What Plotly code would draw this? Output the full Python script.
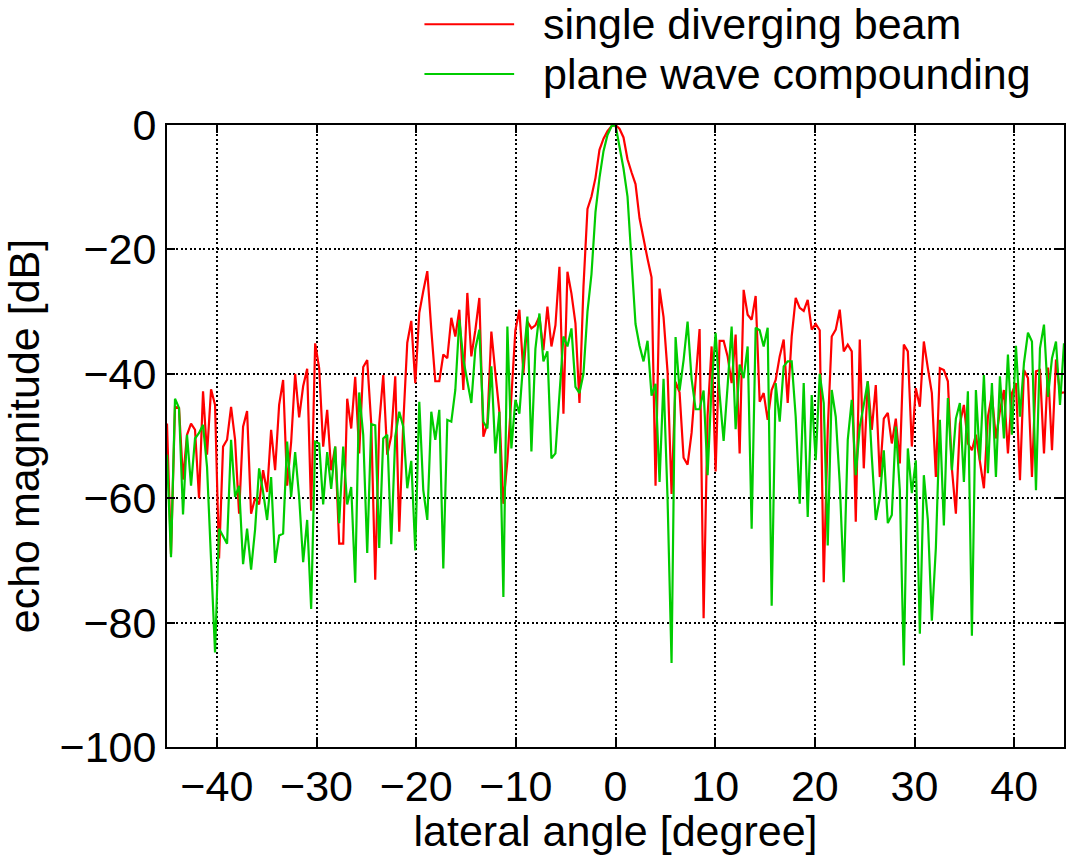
import numpy as np
import plotly.graph_objects as go

# Lateral beam profiles (dB), sampled uniformly from -45 to +45 degrees
single_diverging_db = [
    -48, -69, -45.3, -45.5, -57, -49.8, -48, -49, -60, -42.8,
    -53, -42.5, -45, -69.7, -51.7, -50.6, -45.3, -50.6, -62.5, -48.5,
    -46, -62.5, -60, -61, -55.5, -59, -49, -55.5, -45, -41,
    -58, -51, -40, -47, -42, -39.2, -62, -35.1, -39.1, -51.7,
    -45.8, -55.5, -51.7, -67.3, -67.3, -44, -48.8, -40.5, -52.8, -38.9,
    -37.8, -48, -73.1, -48, -40.2, -53, -50, -40.4, -65.4, -48,
    -35, -31.5, -41.5, -30.2, -26.7, -23.5, -32.9, -41.2, -41.2, -36.9,
    -37.5, -31, -34, -29.7, -42.6, -27, -37.2, -33, -27.8, -50.1,
    -48, -33.2, -39.9, -46.1, -60.9, -54, -43.7, -33, -29.7, -39.9,
    -31.6, -32.7, -32.2, -30.8, -36.2, -29.2, -35.6, -32.2, -22.8, -46.4,
    -23.6, -27.1, -31.9, -44.7, -26, -13.5, -11.5, -8.5, -4, -2.2,
    -1, -0.2, 0, -0.6, -2, -5.5, -7.6, -9.5, -15, -18.5,
    -21.5, -24.5, -58, -26.3, -30.9, -39.7, -59.3, -41.3, -43, -53.5,
    -54.6, -49.5, -40.8, -32.8, -79.3, -46.7, -35.6, -55.7, -34.7, -34.7,
    -37.2, -41.5, -33.7, -52.8, -26.5, -30.5, -31.3, -27.5, -44.5, -43.1,
    -47.4, -42.6, -41, -37.2, -34.5, -44.7, -34, -27.8, -29.4, -29.9,
    -28.1, -32.9, -32, -33, -73.5, -49, -34, -32.9, -29.7, -36.4,
    -35.3, -36.4, -63.8, -34.5, -55.2, -41.2, -49, -41.8, -56.6, -47.2,
    -46.3, -51.2, -47.2, -54.4, -35.3, -36.4, -51.7, -42.3, -45.3, -34.8,
    -39.1, -43.1, -56.6, -39.1, -39.4, -41.2, -55.2, -62.5, -48, -45,
    -51.2, -52.3, -49.8, -53.9, -58.4, -46.9, -43.4, -50.4, -46, -42.6,
    -52.8, -43.1, -41.5, -57.1, -39.4, -40.7, -56.6, -39.6, -39.4, -52.8,
    -39, -52.3, -37.7, -43.1, -43,
]

plane_wave_db = [
    -53, -69.5, -44, -45.5, -62.6, -49.8, -58, -50.4, -49.5, -48.2,
    -55, -70, -84.8, -64.9, -66, -67.3, -50.6, -59.8, -58, -70.6,
    -64.9, -71.5, -65, -55.2, -59, -63.5, -56.6, -70.4, -66, -65.7,
    -50.9, -59.8, -52.6, -59.8, -70.3, -63.5, -77.8, -50.9, -51.2, -61,
    -52.6, -58.5, -51.7, -64, -51.7, -61, -58.2, -73.6, -43, -49.8,
    -68.8, -48.1, -48.3, -68, -50.4, -49.8, -67.4, -50.1, -46.1, -48.5,
    -58.4, -54, -68.4, -44.5, -58.7, -63.5, -46.1, -50.6, -45.8, -71.3,
    -47.4, -47.7, -42.6, -31.3, -37.7, -41, -44.7, -36, -32.9, -47.7,
    -48.8, -38.8, -52.8, -46.1, -75.9, -32.4, -52, -44.2, -46.4, -37.8,
    -30.8, -52.5, -36, -30.3, -38, -36.4, -53.6, -52.8, -43.1, -34,
    -35.6, -32.7, -42.1, -43.1, -40, -30, -24, -14, -8.5, -4.2,
    -1.6, -0.2, 0, -3.5, -7, -11.5, -21.5, -32, -35.5, -38,
    -34.7, -43.5, -41.6, -57.4, -40.8, -60.1, -86.5, -34.1, -42.7, -37.8,
    -31.6, -40.8, -45.7, -45.7, -42.7, -56.3, -41.9, -33.4, -43.3, -50.8,
    -41.9, -32.4, -48.9, -38.5, -40.7, -35.6, -64.9, -32.6, -33, -35.6,
    -32.6, -77.3, -41.5, -47.7, -38.8, -38, -38, -46.9, -60.9, -41.5,
    -63, -43.4, -53.9, -40, -44.7, -67.6, -42.6, -46.9, -57.6, -73.5,
    -50.6, -44.2, -56.3, -48.5, -45, -41.2, -53.3, -63.5, -60, -52.3,
    -64, -62.7, -48.5, -58.7, -86.9, -52, -59.2, -53.9, -81.8, -56.3,
    -63.5, -79.7, -68, -47.4, -64.4, -43.9, -55.5, -47.2, -44.7, -57.4,
    -42.8, -82.1, -42.6, -53.9, -40.2, -56, -41.5, -56.6, -40.4, -50.4,
    -36.9, -49.8, -35.5, -46.9, -38.3, -33.4, -34.8, -58.7, -35.9, -32.1,
    -43.7, -37.5, -34.8, -45, -35.1,
]

angle_deg = np.linspace(-45, 45, len(single_diverging_db))

series_names = ["single diverging beam", "plane wave compounding"]
series_colors = ["#ff0000", "#00cc00"]

x_ticks = [-40, -30, -20, -10, 0, 10, 20, 30, 40]
y_ticks = [-100, -80, -60, -40, -20, 0]

FONT = "Liberation Sans, Arial, Helvetica, sans-serif"
FS = 43

fig = go.Figure()
for name, color, values in zip(series_names, series_colors,
                               [single_diverging_db, plane_wave_db]):
    fig.add_trace(go.Scatter(
        x=angle_deg, y=values, mode="lines", name=name,
        line=dict(color=color, width=2.2), showlegend=False,
    ))

# Key placed above the frame, top right: short line sample + label per series
key_rows_y = [1.162, 1.082]
for name, color, ky in zip(series_names, series_colors, key_rows_y):
    fig.add_shape(type="line", xref="paper", yref="paper",
                  x0=0.287, x1=0.387, y0=ky, y1=ky,
                  line=dict(color=color, width=2.2))
    fig.add_annotation(xref="paper", yref="paper", x=0.4175, y=ky,
                       xanchor="left", yanchor="middle", showarrow=False,
                       text=name, font=dict(family=FONT, size=FS, color="black"))

axis_common = dict(
    showline=True, linecolor="black", linewidth=2, mirror="ticks",
    ticks="inside", ticklen=8, tickwidth=2, tickcolor="black",
    showgrid=True, gridcolor="black", gridwidth=2, griddash="2px,2.5px",
    zeroline=False,
    tickfont=dict(family=FONT, size=FS, color="black"),
)

fig.update_layout(
    width=1070, height=855,
    margin=dict(l=167, r=4, t=125, b=108),
    paper_bgcolor="white", plot_bgcolor="white",
    font=dict(family=FONT, size=FS, color="black"),
    showlegend=False,
    xaxis=dict(
        range=[-45, 45], tickvals=x_ticks,
        title=dict(text="lateral angle [degree]", standoff=2,
                   font=dict(family=FONT, size=FS)),
        **axis_common,
    ),
    yaxis=dict(
        range=[-100, 0], tickvals=y_ticks,
        title=dict(text="echo magnitude [dB]", standoff=10,
                   font=dict(family=FONT, size=FS)),
        **axis_common,
    ),
)

fig.write_html("out.html")
